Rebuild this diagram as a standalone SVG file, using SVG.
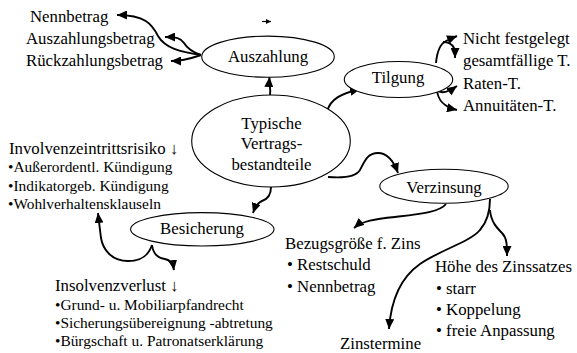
<svg xmlns="http://www.w3.org/2000/svg" width="577" height="353" viewBox="0 0 577 353" font-family="'Liberation Serif', 'Times New Roman', 'DejaVu Serif', serif">
<defs>
<marker id="ah" markerUnits="userSpaceOnUse" markerWidth="11" markerHeight="9" refX="10" refY="4.5" orient="auto"><path d="M0,0 L10,4.5 L0,9 z" fill="#000"/></marker>
<marker id="ahs" markerUnits="userSpaceOnUse" markerWidth="6" markerHeight="6" refX="5" refY="2.5" orient="auto"><path d="M0,0 L5,2.5 L0,5 z" fill="#000"/></marker>
<style>
text{font-family:'Liberation Serif','Times New Roman','DejaVu Serif',serif;fill:#000}
.t{font-size:16.8px}
.s{font-size:15.4px}
.c{text-anchor:middle}
ellipse{fill:#fff;stroke:#000;stroke-width:1.1}
.conn path{fill:none;stroke:#000;stroke-width:1.9;marker-end:url(#ah)}
.conn path.small{stroke-width:1.2;marker-end:url(#ahs)}
</style>
</defs>
<rect width="577" height="353" fill="#fff"/>
<g class="conn" id="connectors">
<path d="M270,95 C271,88 269,84 269.5,77"/>
<path d="M201,55 C180,52 165,48 158,36 C152,24 145,15 117,15"/>
<path d="M201,55 C192,52 187,48 184,43 C181,38 176,37 165,37"/>
<path d="M201,55 C192,58 185,61 171,61"/>
<path class="small" d="M262,21.5 L271,21.5"/>
<path d="M327,111 C331,99 340,94 360,89"/>
<path d="M328,177 C340,178 355,178 360,170 C365,160 368,153 378,153 C388,153 394,162 398,173"/>
<path d="M271,187 C271,195 268,199 262,201 C257,203 255,207 253,213"/>
<path d="M152,245 C153,253 157,258 165,259 C170,260 173,263 174,270"/>
<path d="M152,245 C148,257 140,261 128,261 C112,261 103,250 101,238 C100,230 99,222 98,213"/>
<path d="M446,204 C440,212 420,214 395,217 C375,219 362,221 354,228"/>
<path d="M490,199 C490,212 487,222 480,230 C470,242 440,250 420,264 C400,278 391,300 389,329"/>
<path d="M490,210 C491,222 497,228 502,233 C507,238 507,245 507,256"/>
<path d="M436,63 C437,52 440,44 446,41 C450,39 452,38 457,36"/>
<path d="M443,42 C448,42 452,44 454,48 C455,51 455,53 455,58"/>
<path d="M437,90 C441,94 447,93 457,86"/>
<path d="M437,90 C438,101 444,107 457,110"/>
</g>
<g id="auszahlung">
<ellipse cx="268" cy="56.7" rx="66.3" ry="20.6"/>
<text class="t c" x="268" y="62">Auszahlung</text>
</g>
<g id="typische">
<ellipse cx="271" cy="141" rx="79.3" ry="46"/>
<text class="t c" x="271.5" y="128.5">Typische</text>
<text class="t c" x="271.5" y="149">Vertrags-</text>
<text class="t c" x="271.5" y="169.5">bestandteile</text>
</g>
<g id="tilgung">
<ellipse cx="398.5" cy="79.5" rx="54.2" ry="18"/>
<text class="t c" x="398" y="83">Tilgung</text>
</g>
<g id="verzinsung">
<ellipse cx="444" cy="186.3" rx="64.2" ry="17"/>
<text class="t c" x="444" y="193">Verzinsung</text>
</g>
<g id="besicherung">
<ellipse cx="202.3" cy="229.3" rx="71.7" ry="16.7"/>
<text class="t c" x="202" y="234">Besicherung</text>
</g>
<g id="auszahlung-items">
<text class="t" x="30" y="21.5">Nennbetrag</text>
<text class="t" x="26" y="43.5">Auszahlungsbetrag</text>
<text class="t" x="26" y="66">Rückzahlungsbetrag</text>
</g>
<g id="tilgung-items">
<text class="t" x="463" y="43.5">Nicht festgelegt</text>
<text class="t" x="463" y="66">gesamtfällige T.</text>
<text class="t" x="463" y="88.5">Raten-T.</text>
<text class="t" x="463" y="111">Annuitäten-T.</text>
</g>
<g id="involvenz">
<text class="t" x="9" y="154">Involvenzeintrittsrisiko ↓</text>
<text class="s" x="8" y="172">•Außerordentl. Kündigung</text>
<text class="s" x="8" y="190.5">•Indikatorgeb. Kündigung</text>
<text class="s" x="8" y="209">•Wohlverhaltensklauseln</text>
</g>
<g id="insolvenz">
<text class="t" x="55" y="291">Insolvenzverlust ↓</text>
<text class="s" x="55" y="309.5">•Grund- u. Mobiliarpfandrecht</text>
<text class="s" x="55" y="327.5">•Sicherungsübereignung -abtretung</text>
<text class="s" x="55" y="345.5">•Bürgschaft u. Patronatserklärung</text>
</g>
<g id="bezugsgroesse">
<text class="t" x="285" y="248.5">Bezugsgröße f. Zins</text>
<text class="t" x="287" y="270">• Restschuld</text>
<text class="t" x="287" y="291.5">• Nennbetrag</text>
</g>
<g id="hoehe">
<text class="t" x="435" y="272">Höhe des Zinssatzes</text>
<text class="t" x="436" y="293.5">• starr</text>
<text class="t" x="436" y="314.5">• Koppelung</text>
<text class="t" x="436" y="335.5">• freie Anpassung</text>
</g>
<g id="zinstermine">
<text class="t" x="340" y="349">Zinstermine</text>
</g>
</svg>
